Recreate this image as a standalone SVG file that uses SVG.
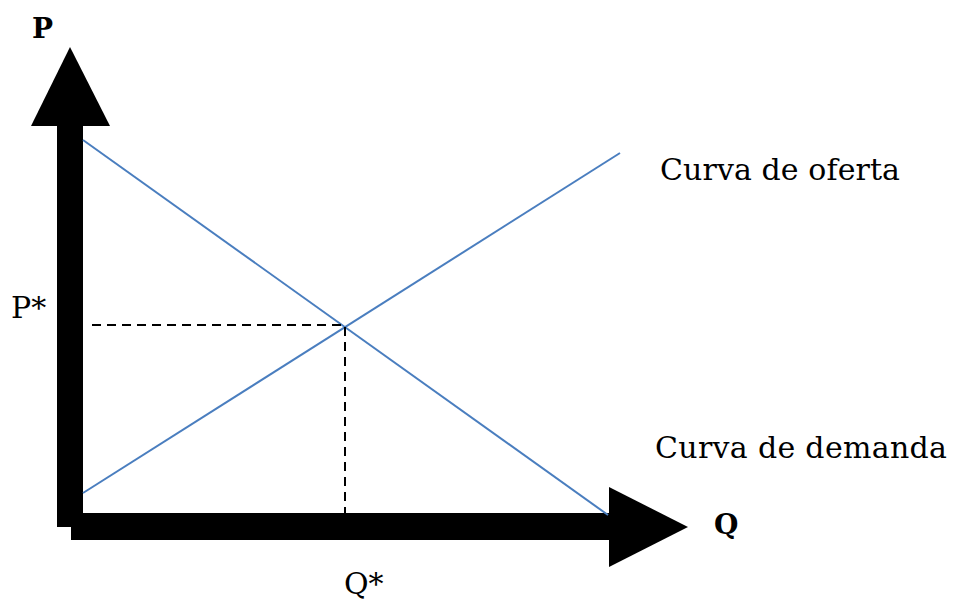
<svg xmlns="http://www.w3.org/2000/svg" width="953" height="602" viewBox="0 0 953 602">
<style>
.lbl{font-family:"DejaVu Serif","Liberation Serif",serif;font-size:30px;fill:#000}
.ax{font-family:"DejaVu Serif","Liberation Serif",serif;font-size:28px;font-weight:bold;fill:#000}
.curve{stroke:#4a7ebf;stroke-width:2;fill:none}
.dash{stroke:#000;stroke-width:2;stroke-dasharray:9,6;fill:none}
</style>
<rect width="953" height="602" fill="#fff"/>
<g id="axes">
<rect x="57" y="120" width="26" height="407" fill="#000"/>
<polygon points="31,126 70,47 110,126" fill="#000"/>
<rect x="71" y="513" width="545" height="27" fill="#000"/>
<polygon points="609,487 688,527 609,567" fill="#000"/>
</g>
<g id="connectors">
<line class="curve" x1="83" y1="140" x2="608" y2="515"/>
<line class="curve" x1="83" y1="493" x2="620" y2="153"/>
<polyline class="dash" points="92,325 345,325 345,513"/>
</g>
<g id="labels">
<text class="ax" x="32" y="38">P</text>
<text class="ax" x="714" y="534">Q</text>
<text class="lbl" x="11" y="318">P*</text>
<text class="lbl" x="344" y="594">Q*</text>
<text class="lbl" x="660" y="180" textLength="240">Curva de oferta</text>
<text class="lbl" x="655" y="458" textLength="292">Curva de demanda</text>
</g>
</svg>
